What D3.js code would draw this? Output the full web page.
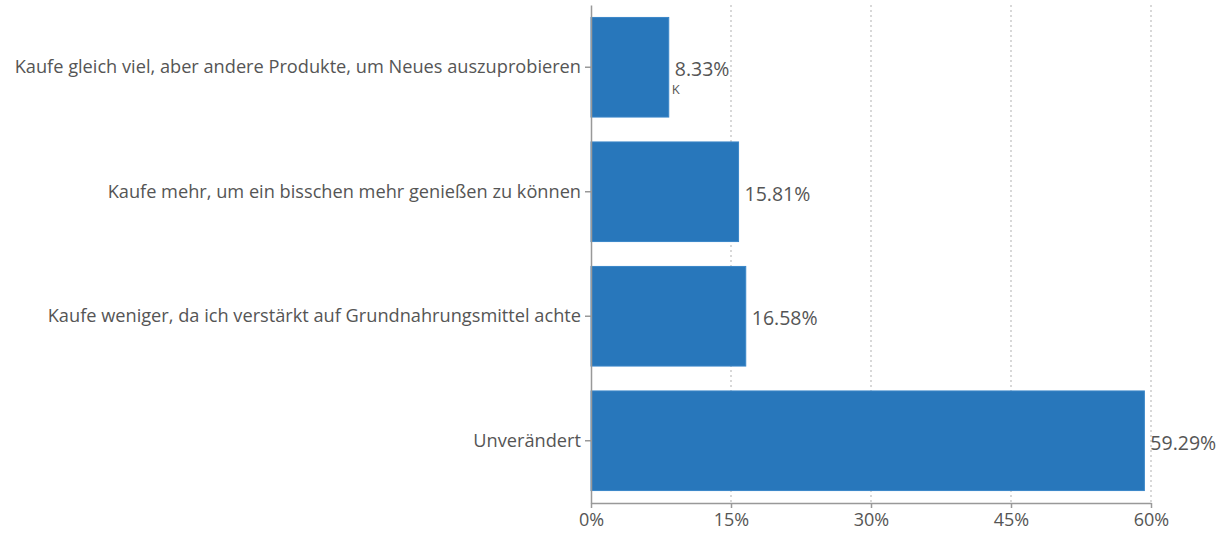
<!DOCTYPE html>
<html>
<head>
<meta charset="utf-8">
<script src="https://cdn.jsdelivr.net/npm/d3@7"></script>
<style>
  body { margin: 0; background: #fff; }
  text { font-family: "Open Sans", sans-serif; fill: #555; }
</style>
</head>
<body>
<div id="chart"></div>
<script>
// Antwortkategorien und Anteile (Prozent)
const categories = [
  "Kaufe gleich viel, aber andere Produkte, um Neues auszuprobieren",
  "Kaufe mehr, um ein bisschen mehr genießen zu können",
  "Kaufe weniger, da ich verstärkt auf Grundnahrungsmittel achte",
  "Unverändert"
];
const values = [8.33, 15.81, 16.58, 59.29];
const xTicks = [0, 15, 30, 45, 60];

const totalWidth = 1219, totalHeight = 533;
const margin = { top: 5, right: 68, bottom: 30, left: 591 };
const width = totalWidth - margin.left - margin.right;
const height = 498;

const svg = d3.select("#chart")
  .append("svg")
  .attr("width", totalWidth)
  .attr("height", totalHeight)
  .append("g")
  .attr("transform", "translate(" + margin.left + "," + margin.top + ")");

const x = d3.scaleLinear().domain([0, 60]).range([0, width]);
const y = d3.scaleBand().domain(categories).range([0, height]).paddingInner(0.2).paddingOuter(0.1);

// Gitterlinien
svg.append("g")
  .selectAll("line")
  .data(xTicks.slice(1))
  .enter()
  .append("line")
  .attr("x1", d => x(d)).attr("x2", d => x(d))
  .attr("y1", 0).attr("y2", height)
  .attr("stroke", "#ccc")
  .attr("stroke-width", 1.5)
  .attr("stroke-dasharray", "2,3");

// Balken
svg.selectAll("bars")
  .data(values)
  .enter()
  .append("rect")
  .attr("x", 0)
  .attr("y", (d, i) => y(categories[i]))
  .attr("width", d => x(d))
  .attr("height", y.bandwidth())
  .attr("fill", "#2877bb")
  .attr("stroke", "#3a86c8")
  .attr("stroke-width", 1);

// Werte
svg.selectAll("vals")
  .data(values)
  .enter()
  .append("text")
  .attr("x", d => x(d) + 6)
  .attr("y", (d, i) => y(categories[i]) + y.bandwidth() / 2 + 2)
  .attr("dy", "0.35em")
  .style("font-size", "19.5px")
  .text(d => d.toFixed(2) + "%");

// kleines "K" unter dem ersten Wert
svg.append("text")
  .attr("x", x(values[0]) + 3)
  .attr("y", y(categories[0]) + y.bandwidth() / 2 + 27)
  .style("font-size", "13px")
  .text("K");

// X-Achse
const xAxis = svg.append("g")
  .attr("transform", "translate(0," + height + ")")
  .call(d3.axisBottom(x).tickValues(xTicks).tickFormat(d => d + "%").tickSize(5).tickSizeOuter(0));
xAxis.select(".domain").attr("stroke", "#999").attr("stroke-width", 1.5);
xAxis.selectAll(".tick line").attr("stroke", "#999").attr("stroke-width", 1.5);
xAxis.selectAll("text").style("font-size", "18px").attr("dy", "0.85em").attr("fill", "#555");

// Y-Achse
const yAxis = svg.append("g")
  .call(d3.axisLeft(y).tickSize(6).tickSizeOuter(0).tickPadding(4));
yAxis.select(".domain").attr("stroke", "#999").attr("stroke-width", 1.5);
yAxis.selectAll(".tick line").attr("stroke", "#999").attr("stroke-width", 1.5);
yAxis.selectAll("text").style("font-size", "18.2px").attr("fill", "#555");
</script>
</body>
</html>
